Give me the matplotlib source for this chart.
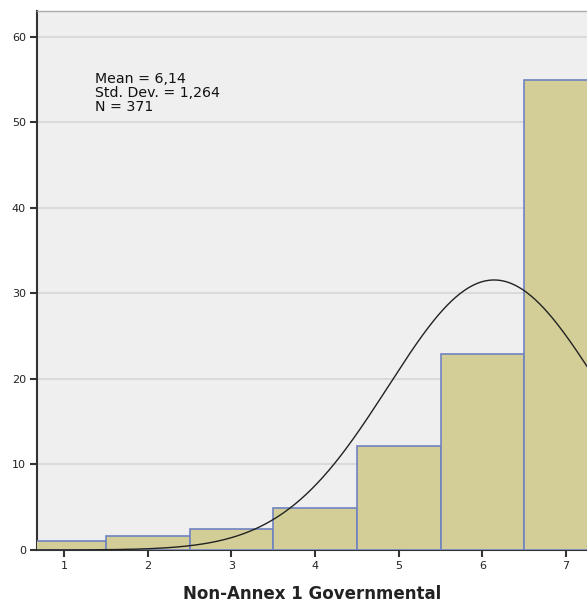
import numpy as np
import matplotlib
matplotlib.use("Agg")
import matplotlib.pyplot as plt

# histogram data (counts per score), shown as percent
scores = [1, 2, 3, 4, 5, 6, 7]
counts = [4, 6, 9, 18, 45, 85, 204]
mean_val = 6.14
std_val = 1.264
n_total = 371
yticks = [0, 10, 20, 30, 40, 50, 60]

percent = np.array(counts) / n_total * 100

fig = plt.figure(figsize=(5.87, 6.04), dpi=100)
ax = fig.add_axes([0.063, 0.0894, 0.937, 0.8924])
ax.set_facecolor("#EFEFEF")

ax.bar(scores, percent, width=1.0, color="#D3CE97", edgecolor="#7083C2",
       linewidth=1.2, zorder=3)

# normal curve scaled to percent (bin width 1)
xs = np.linspace(0.6, 7.4, 400)
pdf = np.exp(-0.5 * ((xs - mean_val) / std_val) ** 2) / (std_val * np.sqrt(2 * np.pi))
ax.plot(xs, pdf * 100, color="#222222", linewidth=1.0, zorder=4)

ax.set_xlim(0.677, 7.25)
ax.set_ylim(0, 63)
ax.set_xticks(scores)
ax.set_yticks(yticks)
ax.yaxis.grid(True, color="#DADADA", linewidth=1.5, zorder=1)
ax.set_axisbelow(True)

for s in ["left", "bottom"]:
    ax.spines[s].set_color("#333333")
    ax.spines[s].set_linewidth(1.5)
ax.spines["top"].set_color("#AAAAAA")
ax.spines["top"].set_linewidth(1.0)
ax.spines["right"].set_visible(False)

ax.tick_params(axis="both", direction="out", length=5, width=1.5, color="#333333",
               labelsize=8, labelcolor="#222222", pad=3)

ax.text(1.37, 55.9, "Mean = %s\nStd. Dev. = %s\nN = %d" % ("6,14", "1,264", n_total),
        fontsize=10.2, va="top", ha="left", linespacing=1.03, color="#111111")

ax.set_xlabel("Non-Annex 1 Governmental", fontsize=12, fontweight="bold",
              color="#222222", labelpad=10)

fig.savefig("out.png", dpi=100)
